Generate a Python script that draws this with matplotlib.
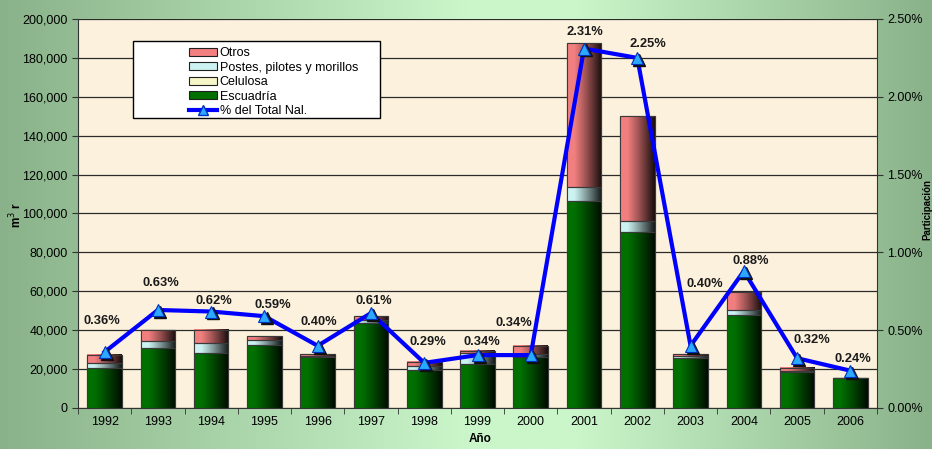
import numpy as np
import matplotlib.pyplot as plt
from matplotlib.patches import Rectangle, Patch
from matplotlib.lines import Line2D
from matplotlib.ticker import FuncFormatter

plt.rcParams['font.family'] = ['Liberation Sans', 'DejaVu Sans']

years = ['1992', '1993', '1994', '1995', '1996', '1997', '1998', '1999',
         '2000', '2001', '2002', '2003', '2004', '2005', '2006']
escuadria = [20800, 30700, 28400, 32200, 26200, 43500, 19500, 22500,
             26400, 106200, 90500, 25900, 47800, 18300, 15300]
celulosa = [0, 0, 0, 0, 0, 300, 0, 0, 0, 0, 0, 0, 0, 0, 0]
postes = [2200, 3900, 4800, 2800, 700, 1300, 2100, 5600,
          1200, 7300, 5800, 1000, 2600, 700, 0]
otros = [4400, 5500, 6900, 1800, 700, 2000, 2200, 1200,
         4300, 74000, 53800, 900, 9100, 1600, 0]
pct = [0.36, 0.63, 0.62, 0.59, 0.40, 0.61, 0.29, 0.34,
       0.34, 2.31, 2.25, 0.40, 0.88, 0.32, 0.24]

# label offsets from the point, in pixels (dx, dy up)
label_dx = [-3, 3, 3, 8, 1, 3, 4, 4, -17, 1, 11, 14, 7, 15, 3]
label_dy = [31, 27, 11, 11, 24, 12, 21, 13, 32, 17, 14, 62, 10, 18, 12]

W, H = 932, 449
fig = plt.figure(figsize=(W / 100, H / 100), dpi=100)

# green gradient background of the whole figure
xs = np.linspace(0, 1, 400)
c_dark = np.array([138, 178, 138]) / 255
c_light = np.array([202, 246, 202]) / 255
t = np.interp(xs, [0, 0.5, 0.62, 1], [0, 1, 1, 0])
bg = c_dark[None, :] * (1 - t[:, None]) + c_light[None, :] * t[:, None]
bgax = fig.add_axes([0, 0, 1, 1], zorder=-10)
bgax.imshow(bg[None, :, :], aspect='auto', extent=[0, 1, 0, 1])
bgax.axis('off')

ax = fig.add_axes([78 / W, 1 - 408 / H, (877 - 78) / W, (408 - 19) / H])
ax.set_facecolor('#fcf1dc')
ax.set_axisbelow(True)

x = np.arange(len(years))
width = 0.65
series = [
    ('Escuadría', escuadria, (0.0, 0.44, 0.0)),
    ('Celulosa', celulosa, (0.96, 0.96, 0.78)),
    ('Postes, pilotes y morillos', postes, (0.80, 0.95, 0.95)),
    ('Otros', otros, (0.95, 0.50, 0.50)),
]

bottom = np.zeros(len(years))
tt = np.linspace(0, 1, 64)
shade = 1 - 0.9 * np.clip((tt - 0.2) / 0.8, 0, 1) ** 1.1
handles = {}
for name, vals, col in series:
    bars = ax.bar(x, vals, width, bottom=bottom, color=col,
                  edgecolor='#3a3a3a', linewidth=0.8, zorder=2)
    grad = np.array(col)[None, :] * shade[:, None]
    for b in bars:
        if b.get_height() <= 0:
            continue
        ax.imshow(grad[None, :, :], aspect='auto', zorder=2.5,
                  extent=[b.get_x(), b.get_x() + b.get_width(),
                          b.get_y(), b.get_y() + b.get_height()])
        ax.add_patch(Rectangle((b.get_x(), b.get_y()), b.get_width(),
                               b.get_height(), fill=False,
                               edgecolor='#3a3a3a', linewidth=0.8, zorder=3))
    handles[name] = Patch(facecolor=col, edgecolor='#202020', linewidth=0.8)
    bottom += np.array(vals)

ax.set_xlim(-0.5, len(years) - 0.5)
ax.set_ylim(0, 200000)
ax.set_yticks(np.arange(0, 200001, 20000))
ax.yaxis.set_major_formatter(FuncFormatter(lambda v, p: f'{int(v):,}'))
ax.grid(axis='y', color='#2b2b2b', linewidth=0.9)
ax.set_xticks(x)
ax.set_xticklabels(years)
ax.set_xticks(np.arange(-0.5, len(years)), minor=True)
ax.tick_params(axis='x', which='major', length=0, labelsize=9, pad=6)
ax.tick_params(axis='x', which='minor', length=4, color='#333333')
ax.tick_params(axis='y', length=4, labelsize=9, color='#333333')
for s in ['top', 'right']:
    ax.spines[s].set_visible(False)
ax.spines['left'].set_color('#333333')
ax.spines['bottom'].set_color('#333333')

ax2 = ax.twinx()
ax2.set_ylim(0, 2.5)
ax2.set_yticks(np.arange(0, 2.51, 0.5))
ax2.yaxis.set_major_formatter(FuncFormatter(lambda v, p: f'{v:.2f}%'))
ax2.tick_params(axis='y', length=4, labelsize=9, color='#333333')
for s in ['top', 'left', 'bottom']:
    ax2.spines[s].set_visible(False)
ax2.spines['right'].set_color('#333333')

ax2.plot(x, pct, color='#0000ff', linewidth=3, zorder=4)
ax2.plot(x + 0.04, np.array(pct) - 0.012, linestyle='none', marker='^',
         markersize=8, color='#101010', zorder=4.5)
ax2.plot(x, pct, linestyle='none', marker='^', markersize=8,
         markerfacecolor='#2aa9ff', markeredgecolor='#0030c0',
         markeredgewidth=0.8, zorder=5)
for xi, p, dx, dy in zip(x, pct, label_dx, label_dy):
    ax2.annotate(f'{p:.2f}%', (xi, p), xytext=(dx * 0.72, dy * 0.72),
                 textcoords='offset points', ha='center', va='center',
                 fontsize=9.3, fontweight='bold', color='#1a1a1a', zorder=6)

fig.text(16 / W, 1 - 215 / H, 'm$^3$ r', rotation=90, ha='center',
         va='center', fontsize=8.5, fontweight='bold')
fig.text(927 / W, 1 - 210 / H, 'Participación', rotation=90, ha='center',
         va='center', fontsize=7, fontweight='bold')
fig.text(480 / W, 1 - 439 / H, 'Año', ha='center', va='center',
         fontsize=8.5, fontweight='bold')

# legend box
fig.patches.append(Rectangle((133 / W, 1 - 118 / H), 247 / W, 77 / H,
                             transform=fig.transFigure, facecolor='white',
                             edgecolor='black', linewidth=1, zorder=10))
line_h = Line2D([], [], color='#0000ff', linewidth=3, marker='^',
                markersize=7, markerfacecolor='#2aa9ff',
                markeredgecolor='#0030c0')
leg = fig.legend([handles['Otros'], handles['Postes, pilotes y morillos'],
                  handles['Celulosa'], handles['Escuadría'], line_h],
                 ['Otros', 'Postes, pilotes y morillos', 'Celulosa',
                  'Escuadría', '% del Total Nal.'],
                 loc='upper left', bbox_to_anchor=(183 / W, 1 - 41 / H),
                 frameon=False, borderpad=0, fontsize=9,
                 handlelength=2.2, handleheight=0.6, handletextpad=0.25,
                 labelspacing=0.2)
leg.set_zorder(11)

fig.savefig('out.png', dpi=100)
